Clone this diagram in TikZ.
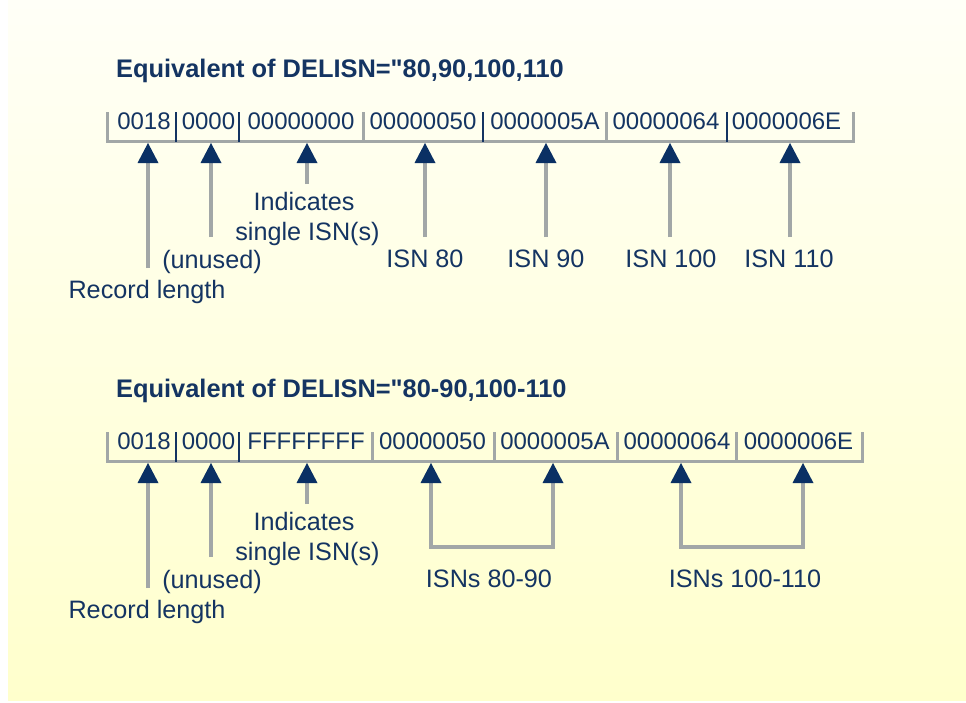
\documentclass[tikz,border=0pt]{standalone}
\usepackage{fontspec}
\setmainfont{Liberation Sans}
\usetikzlibrary{arrows.meta,positioning}
\definecolor{navy}{RGB}{20,52,98}
\definecolor{tipblue}{RGB}{10,48,100}
\definecolor{rulegray}{RGB}{162,167,167}
\definecolor{paper}{RGB}{255,255,204}
\definecolor{papertop}{RGB}{255,255,247}
\tikzset{
  fld/.style={anchor=base,inner sep=0pt,text=navy,font=\fontsize{24}{28}\selectfont},
  lbl/.style={anchor=base,inner sep=0pt,text=navy,font=\fontsize{25.2}{28}\selectfont},
  ttl/.style={anchor=base west,inner sep=0pt,text=navy,font=\fontsize{25.4}{28}\selectfont\bfseries},
  rulebar/.style={draw=rulegray,line width=3pt},
  sepnavy/.style={draw=navy,line width=2pt},
  ptr/.style={draw=rulegray,line width=4pt,-{Triangle[width=21pt,length=20pt,color=tipblue,line width=0pt]}},
  ptrs/.style={draw=rulegray,line width=4pt,miter limit=4,
    {Triangle[width=21pt,length=20pt,color=tipblue,line width=0pt]}-{Triangle[width=21pt,length=20pt,color=tipblue,line width=0pt]}}
}
\begin{document}
\begin{tikzpicture}[x=1pt,y=-1pt]
\useasboundingbox (0,0) rectangle (966,702);
\fill[white] (0,0) rectangle (966,702);
\shade[top color=papertop,bottom color=paper] (8,0) rectangle (966,700);
%
% first record
\node (h1) [ttl] at (116,77) {Equivalent of DELISN=\textquotedbl80,90,100,110};
\draw[rulebar] (107,112) -- (107,141.5) -- (853,141.5) -- (853,112);
\foreach \x in {363,606} \draw[rulebar] (\x,112) -- (\x,141.5);
\foreach \x in {176,239,483,727} \draw[sepnavy] (\x,112) -- (\x,141.5);
\node (f1) [fld] at (144,129.5) {0018};
\node (f2) [fld] at (208.5,129.5) {0000};
\node (f3) [fld] at (301,129.5) {00000000};
\node (f4) [fld] at (423,129.5) {00000050};
\node (f5) [fld] at (545,129.5) {0000005A};
\node (f6) [fld] at (666,129.5) {00000064};
\node (f7) [fld] at (786.5,129.5) {0000006E};
%
\coordinate (t1) at (148,143);
\coordinate (t2) at (211,143);
\coordinate (t3) at (307,143);
\coordinate (t4) at (425,143);
\coordinate (t5) at (546,143);
\coordinate (t6) at (670,143);
\coordinate (t7) at (790,143);
\coordinate (e1) at (148,268);
\coordinate (e2) at (211,237);
\coordinate (e3) at (307,184);
\coordinate (e4) at (425,237);
\coordinate (e5) at (546,237);
\coordinate (e6) at (670,237);
\coordinate (e7) at (790,237);
%
\node (l1) [lbl] at (147,298) {Record length};
\node (l2) [lbl] at (212,268) {(unused)};
\node (l3) [lbl] at (304,210) {Indicates};
\node (l3b) [lbl] at (307.5,240) {single ISN(s)};
\node (l4) [lbl] at (425,267) {ISN 80};
\node (l5) [lbl] at (546,267) {ISN 90};
\node (l6) [lbl] at (671,267) {ISN 100};
\node (l7) [lbl] at (789,267) {ISN 110};
\foreach \i in {1,...,7} \draw[ptr] (e\i) -- (t\i);
%
% second record
\node (h2) [ttl] at (116,397) {Equivalent of DELISN=\textquotedbl80-90,100-110};
\draw[rulebar] (107,432) -- (107,461.5) -- (862,461.5) -- (862,432);
\foreach \x in {372,494,617,736} \draw[rulebar] (\x,432) -- (\x,461.5);
\foreach \x in {176,239} \draw[sepnavy] (\x,432) -- (\x,461.5);
\node (g1) [fld] at (144,449.5) {0018};
\node (g2) [fld] at (208.5,449.5) {0000};
\node (g3) [fld] at (306,449.5) {FFFFFFFF};
\node (g4) [fld] at (432.5,449.5) {00000050};
\node (g5) [fld] at (555,449.5) {0000005A};
\node (g6) [fld] at (677,449.5) {00000064};
\node (g7) [fld] at (798.5,449.5) {0000006E};
%
\coordinate (u1) at (148,463);
\coordinate (u2) at (211,463);
\coordinate (u3) at (307,463);
\coordinate (u4) at (431,463);
\coordinate (u5) at (553,463);
\coordinate (u6) at (681,463);
\coordinate (u7) at (803,463);
\coordinate (d1) at (148,588);
\coordinate (d2) at (211,557);
\coordinate (d3) at (307,504);
\coordinate (k4) at (431,547);
\coordinate (k5) at (553,547);
\coordinate (k6) at (681,547);
\coordinate (k7) at (803,547);
%
\node (m1) [lbl] at (147,618) {Record length};
\node (m2) [lbl] at (212,588) {(unused)};
\node (m3) [lbl] at (304,530) {Indicates};
\node (m3b) [lbl] at (307.5,560) {single ISN(s)};
\node (m4) [lbl] at (489,587) {ISNs 80-90};
\node (m6) [lbl] at (745,587) {ISNs 100-110};
\foreach \i in {1,2,3} \draw[ptr] (d\i) -- (u\i);
\draw[ptrs] (u4) -- (k4) -- (k5) -- (u5);
\draw[ptrs] (u6) -- (k6) -- (k7) -- (u7);
\end{tikzpicture}
\end{document}
